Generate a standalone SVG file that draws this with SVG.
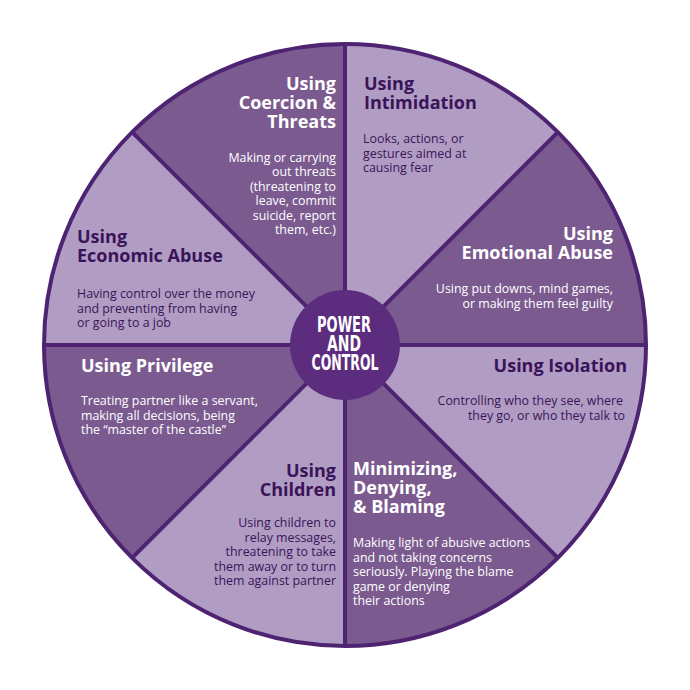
<svg xmlns="http://www.w3.org/2000/svg" width="690" height="690" viewBox="0 0 690 690">
<style>
.dark{fill:#7b5a8f}
.light{fill:#b19dc3}
.h{font-family:"Open Sans","DejaVu Sans",sans-serif;font-weight:bold;font-size:18px}
.b{font-family:"Open Sans","DejaVu Sans",sans-serif;font-size:12.4px}
.w{fill:#ffffff}
.k{fill:#3a1459}
.r{text-anchor:end}
.div{stroke:#4e2472;stroke-width:4;fill:none}
.c{font-family:"Liberation Sans Narrow","DejaVu Sans Condensed",sans-serif;font-weight:bold;font-size:21px;fill:#ffffff;text-anchor:middle}
</style>
<rect width="690" height="690" fill="#ffffff"/>
<g id="intimidation">
<path class="light" d="M345,345 L345,44 A301,301 0 0 1 557.84,132.16 Z"/>
<text class="h k" x="364" y="90">Using<tspan x="364" dy="19">Intimidation</tspan></text>
<text class="b k" x="363" y="143">Looks, actions, or<tspan x="363" dy="14.5">gestures aimed at</tspan><tspan x="363" dy="14.5">causing fear</tspan></text>
</g>
<g id="emotional">
<path class="dark" d="M345,345 L557.84,132.16 A301,301 0 0 1 646,345 Z"/>
<text class="h w r" x="613" y="240">Using<tspan x="613" dy="19">Emotional Abuse</tspan></text>
<text class="b w r" x="613" y="293">Using put downs, mind games,<tspan x="613" dy="14.5">or making them feel guilty</tspan></text>
</g>
<g id="isolation">
<path class="light" d="M345,345 L646,345 A301,301 0 0 1 557.84,557.84 Z"/>
<text class="h k r" x="627" y="372">Using Isolation</text>
<text class="b k r" x="623" y="405">Controlling who they see, where<tspan x="625" dy="14.5">they go, or who they talk to</tspan></text>
</g>
<g id="minimizing">
<path class="dark" d="M345,345 L557.84,557.84 A301,301 0 0 1 345,646 Z"/>
<text class="h w" x="353" y="475">Minimizing,<tspan x="353" dy="19">Denying,</tspan><tspan x="353" dy="19">&amp; Blaming</tspan></text>
<text class="b w" x="353" y="547">Making light of abusive actions<tspan x="353" dy="14.5">and not taking concerns</tspan><tspan x="353" dy="14.5">seriously. Playing the blame</tspan><tspan x="353" dy="14.5">game or denying</tspan><tspan x="353" dy="14.5">their actions</tspan></text>
</g>
<g id="children">
<path class="light" d="M345,345 L345,646 A301,301 0 0 1 132.16,557.84 Z"/>
<text class="h k r" x="336" y="477">Using<tspan x="336" dy="19">Children</tspan></text>
<text class="b k r" x="336" y="527">Using children to<tspan x="336" dy="14.5">relay messages,</tspan><tspan x="336" dy="14.5">threatening to take</tspan><tspan x="336" dy="14.5">them away or to turn</tspan><tspan x="336" dy="14.5">them against partner</tspan></text>
</g>
<g id="privilege">
<path class="dark" d="M345,345 L132.16,557.84 A301,301 0 0 1 44,345 Z"/>
<text class="h w" x="81" y="372">Using Privilege</text>
<text class="b w" x="81" y="405">Treating partner like a servant,<tspan x="81" dy="14.5">making all decisions, being</tspan><tspan x="81" dy="14.5">the “master of the castle”</tspan></text>
</g>
<g id="economic">
<path class="light" d="M345,345 L44,345 A301,301 0 0 1 132.16,132.16 Z"/>
<text class="h k" x="77" y="243">Using<tspan x="77" dy="19">Economic Abuse</tspan></text>
<text class="b k" x="77" y="298">Having control over the money<tspan x="77" dy="14.5">and preventing from having</tspan><tspan x="77" dy="14.5">or going to a job</tspan></text>
</g>
<g id="coercion">
<path class="dark" d="M345,345 L132.16,132.16 A301,301 0 0 1 345,44 Z"/>
<text class="h w r" x="336" y="90">Using<tspan x="336" dy="19">Coercion &amp;</tspan><tspan x="336" dy="19">Threats</tspan></text>
<text class="b w r" x="336" y="161.5">Making or carrying<tspan x="336" dy="14.5">out threats</tspan><tspan x="336" dy="14.5">(threatening to</tspan><tspan x="336" dy="14.5">leave, commit</tspan><tspan x="336" dy="14.5">suicide, report</tspan><tspan x="336" dy="14.5">them, etc.)</tspan></text>
</g>
<g id="connectors">
<line class="div" x1="345" y1="44" x2="345" y2="646"/>
<line class="div" x1="44" y1="345" x2="646" y2="345"/>
<line class="div" x1="132.16" y1="132.16" x2="557.84" y2="557.84"/>
<line class="div" x1="557.84" y1="132.16" x2="132.16" y2="557.84"/>
<circle class="div" cx="345" cy="345" r="301"/>
</g>
<g id="center">
<circle cx="345" cy="345" r="55" fill="#5c2c7e"/>
<text class="c" x="344" y="332" textLength="54" lengthAdjust="spacingAndGlyphs">POWER</text>
<text class="c" x="344" y="351" textLength="34" lengthAdjust="spacingAndGlyphs">AND</text>
<text class="c" x="345" y="370" textLength="67" lengthAdjust="spacingAndGlyphs">CONTROL</text>
</g>
</svg>
